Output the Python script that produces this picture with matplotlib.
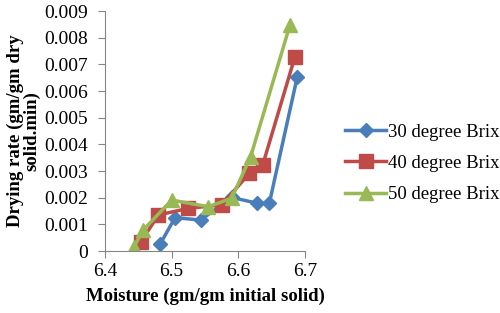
import matplotlib
matplotlib.use("Agg")
import matplotlib.pyplot as plt

plt.rcParams['font.family'] = ['Liberation Serif', 'DejaVu Serif']

# values
x30 = [6.4825, 6.505, 6.5435, 6.59, 6.6285, 6.6465, 6.6885]
y30 = [0.00025, 0.00125, 0.00116, 0.00201, 0.00179, 0.00179, 0.00654]
x40 = [6.454, 6.48, 6.525, 6.575, 6.6165, 6.6365, 6.685]
y40 = [0.00035, 0.00135, 0.0016, 0.00173, 0.00291, 0.00322, 0.00729]
x50 = [6.4435, 6.4575, 6.50, 6.555, 6.59, 6.6185, 6.6775]
y50 = [0.00016, 0.00079, 0.00191, 0.00166, 0.00198, 0.00354, 0.00848]
labels = ["30 degree Brix", "40 degree Brix", "50 degree Brix"]

fig = plt.figure(figsize=(5, 3.13), dpi=100)
ax = fig.add_axes([105/500, 1 - 251/313, 200/500, 240/313])

ax.plot(x30, y30, color='#4A7EBB', marker='D', markersize=7.5, lw=2.5, label=labels[0])
ax.plot(x40, y40, color='#BE4B48', marker='s', markersize=10, lw=2.5, label=labels[1])
ax.plot(x50, y50, color='#98B954', marker='^', markersize=10, lw=2.5, label=labels[2])

ax.set_xlim(6.4, 6.7)
ax.set_ylim(0, 0.009)
ax.set_xticks([6.4, 6.5, 6.6, 6.7])
ax.set_xticklabels(["6.4", "6.5", "6.6", "6.7"])
yt = [i / 1000 for i in range(10)]
ax.set_yticks(yt)
ax.set_yticklabels(["0"] + ["0.00%d" % i for i in range(1, 10)])

for s in ['top', 'right']:
    ax.spines[s].set_visible(False)
for s in ['left', 'bottom']:
    ax.spines[s].set_color('#868686')
ax.tick_params(axis='both', colors='#868686', labelcolor='black', labelsize=14, length=5)
ax.tick_params(axis='y', pad=7)

ax.set_xlabel("Moisture (gm/gm initial solid)", fontsize=13.5, fontweight='bold', labelpad=6)
ax.set_ylabel("Drying rate (gm/gm dry\nsolid.min)", fontsize=13.5, fontweight='bold',
              labelpad=3, linespacing=0.95)

ax.legend(loc='center left', bbox_to_anchor=(1.2, 0.365), frameon=False, fontsize=13.5,
          handlelength=2.2, labelspacing=0.75, handletextpad=0.1, borderpad=0,
          borderaxespad=0)

fig.savefig("out.png", dpi=100)
